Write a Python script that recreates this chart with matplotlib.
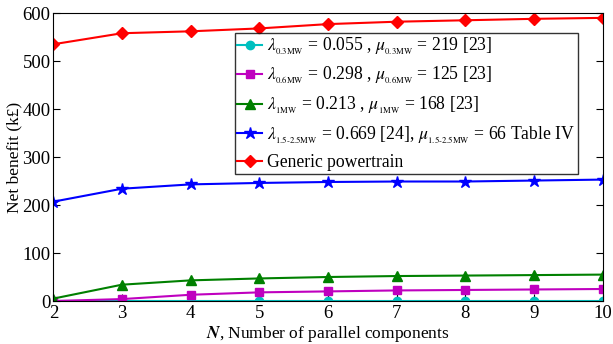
import matplotlib.pyplot as plt

plt.rcParams["font.family"] = ["Liberation Serif", "DejaVu Serif"]
plt.rcParams["mathtext.fontset"] = "stix"

N = [2, 3, 4, 5, 6, 7, 8, 9, 10]
mw03 = [0, 0, 0, 0, 0, 0, 0, 0, 0]
mw06 = [0, 4, 13, 18, 20, 22, 23, 24, 25]
mw1 = [5, 34, 43, 47, 50, 52, 53, 54, 55]
mw15 = [207, 234, 243, 246, 248, 249, 249, 251, 253]
generic = [535, 558, 562, 568, 577, 582, 585, 588, 590]

labels = [
    r"$\lambda_{_{\mathrm{0.3MW}}}$ = 0.055 , $\mu_{_{\mathrm{0.3MW}}}$ = 219 [23]",
    r"$\lambda_{_{\mathrm{0.6MW}}}$ = 0.298 , $\mu_{_{\mathrm{0.6MW}}}$ = 125 [23]",
    r"$\lambda_{_{\mathrm{1MW}}}$ = 0.213 , $\mu_{_{\mathrm{1MW}}}$ = 168 [23]",
    r"$\lambda_{_{\mathrm{1.5\text{-}2.5MW}}}$ = 0.669 [24], $\mu_{_{\mathrm{1.5\text{-}2.5MW}}}$ = 66 Table IV",
    "Generic powertrain",
]

fig, ax = plt.subplots(figsize=(6.13, 3.44), dpi=100)
ax.plot(N, mw03, color="c", marker="o", markersize=6, lw=1.5, label=labels[0])
ax.plot(N, mw06, color="m", marker="s", markersize=6, lw=1.5, label=labels[1])
ax.plot(N, mw1, color="green", marker="^", markersize=7, lw=1.5, label=labels[2])
ax.plot(N, mw15, color="blue", marker="*", markersize=9, lw=1.5, label=labels[3])
ax.plot(N, generic, color="red", marker="D", markersize=6, lw=1.5, label=labels[4])

ax.set_xlim(2, 10)
ax.set_ylim(0, 600)
ax.set_xticks(N)
ax.set_yticks(range(0, 601, 100))
ax.tick_params(direction="in", right=True, labelsize=13.5, length=5)
ax.tick_params(axis="y", pad=2)
ax.tick_params(axis="x", pad=3)
ax.set_xlabel(r"$\boldsymbol{N}$, Number of parallel components", fontsize=12.5, labelpad=1)
ax.set_ylabel("Net benefit (k\u00a3)", fontsize=12.5, labelpad=0)

leg = ax.legend(loc="upper right", bbox_to_anchor=(0.955, 0.93), fontsize=12.7,
                frameon=True, fancybox=False, edgecolor="black",
                handlelength=1.4, handletextpad=0.3, borderpad=0.15,
                labelspacing=0.48, borderaxespad=0)
leg.get_frame().set_linewidth(1.0)

plt.subplots_adjust(left=0.087, right=0.983, top=0.962, bottom=0.125)
plt.savefig("out.png", dpi=100)
